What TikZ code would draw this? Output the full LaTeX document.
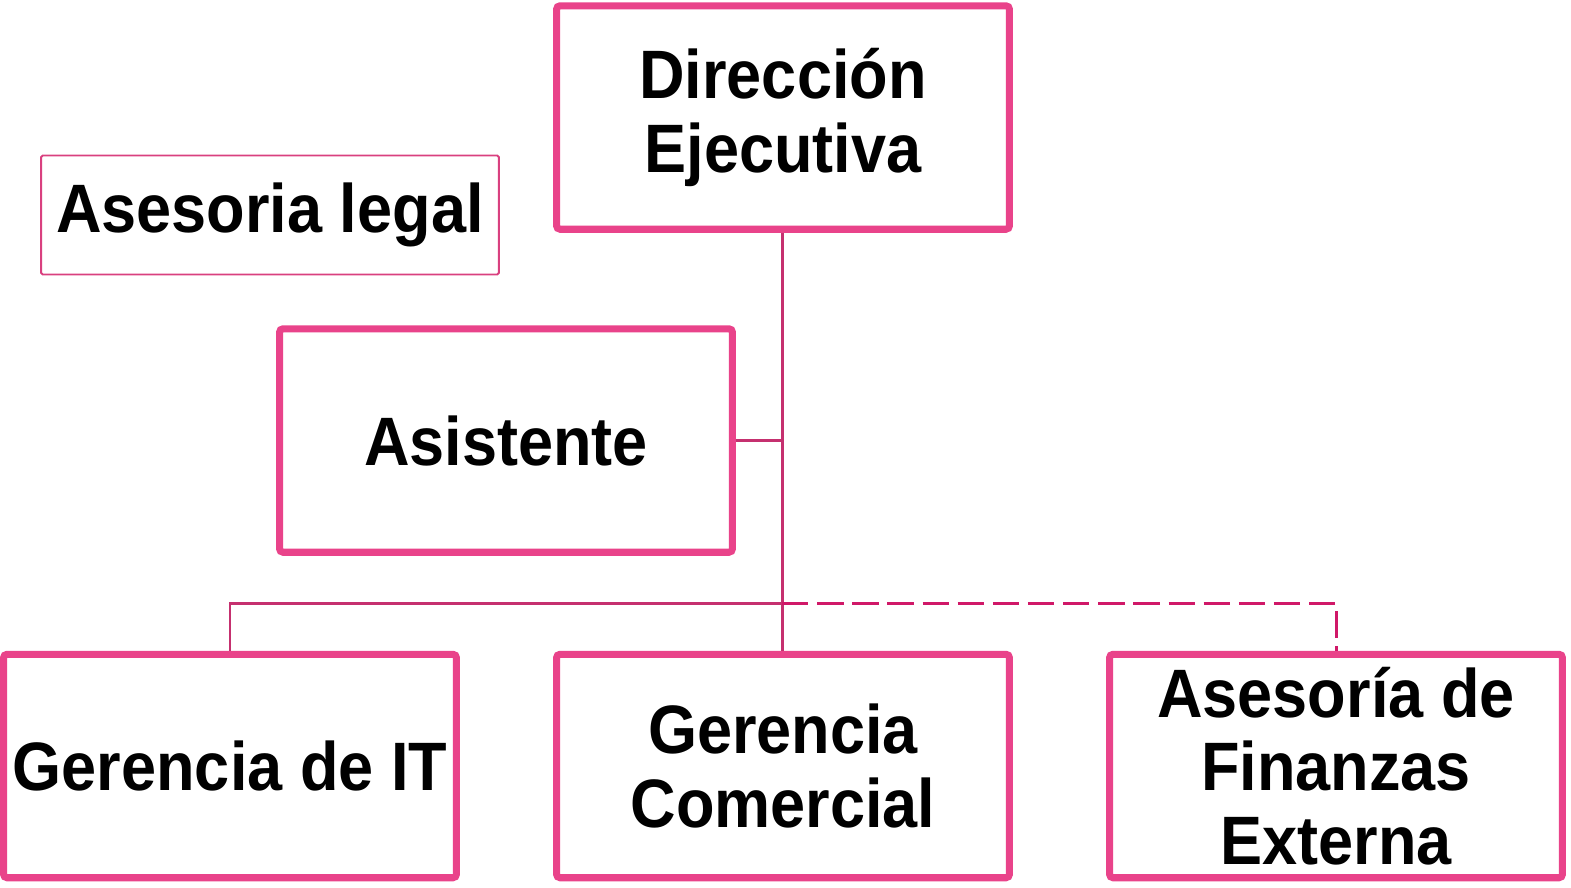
\documentclass[tikz,border=0pt]{standalone}
\usepackage{fontspec}
\setmainfont[FakeStretch=0.92]{Liberation Sans}
\usetikzlibrary{positioning, calc}
\definecolor{boxpink}{RGB}{233, 67, 138}
\definecolor{linkpink}{RGB}{197, 48, 111}
\definecolor{dashpink}{RGB}{208, 24, 104}
\definecolor{thinpink}{RGB}{217, 64, 127}

\begin{document}
\begin{tikzpicture}[
    x=0.02cm, y=-0.02cm,
    unit/.style  = {draw=boxpink, line width=4pt, rounded corners=2pt, fill=white,
                    minimum width=9.06cm, minimum height=4.47cm, inner sep=0pt,
                    align=center, font=\fontsize{39}{42}\selectfont\bfseries},
    staff/.style = {draw=thinpink, line width=1.1pt, rounded corners=1pt,
                    minimum width=9.16cm, minimum height=2.38cm, inner sep=0pt,
                    font=\fontsize{39}{42}\selectfont\bfseries},
    link/.style  = {draw=linkpink, line width=1.7pt},
    dlink/.style = {draw=dashpink, line width=1.7pt, dash pattern=on 15pt off 5pt},
  ]
    \useasboundingbox (0,0) rectangle (1571,887);

    % ── top ──
    \node[unit]  (dir)  at (783, 117.5) {Dirección\\Ejecutiva};
    \node[staff] (legal) at (270, 215)  {Asesoria legal};
    \node[unit]  (asis) at (506, 440.5) {Asistente};

    % ── bottom row ──
    \node[unit]  (git)  at (230, 766)   {Gerencia de IT};
    \node[unit]  (gcom) at (783, 766)   {Gerencia\\Comercial};
    \node[unit]  (fin)  at (1336, 766)  {Asesoría de\\Finanzas\\Externa};

    \coordinate (bus) at (782, 603);

    % ── connectors ──
    \draw[link] (dir.south -| bus) -- (gcom.north -| bus);
    \draw[link] (asis.east) -- (asis.east -| bus);
    \draw[link] (git.north) |- (bus);
    \draw[dlink] (bus) -| (fin.north);

  \end{tikzpicture}
\end{document}
